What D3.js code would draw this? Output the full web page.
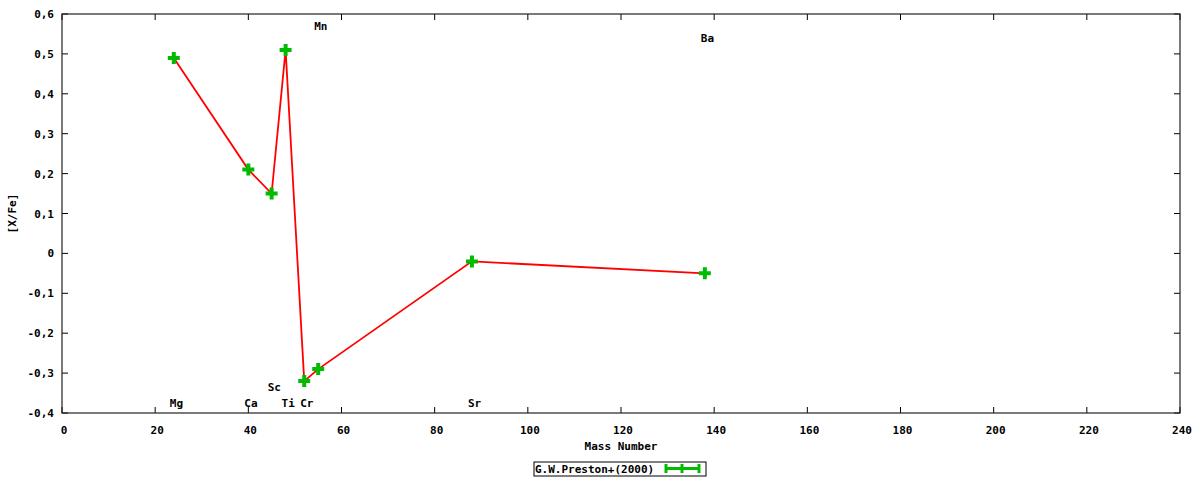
<!DOCTYPE html>
<html><head><meta charset="utf-8">
<script src="https://cdn.jsdelivr.net/npm/d3@7"></script>
<style>body{margin:0;background:#fff}text{font-family:"DejaVu Sans Mono",monospace;font-weight:bold;font-size:11px;fill:#000}</style>
</head><body><svg id="c" width="1200" height="480"></svg>
<script>
const elements = ["Mg","Ca","Sc","Ti","Cr","Mn","Sr","Ba"];
const massNumbers = [24,40,45,48,52,55,88,138];
const xFe = [0.49,0.21,0.15,0.51,-0.32,-0.29,-0.02,-0.05];
const labelY = [-0.375,-0.375,-0.335,-0.375,-0.375,0.57,-0.375,0.54];
const xTicks = [0,20,40,60,80,100,120,140,160,180,200,220,240];
const yTicks = [-0.4,-0.3,-0.2,-0.1,0,0.1,0.2,0.3,0.4,0.5,0.6];
const seriesName = "G.W.Preston+(2000)";

const svg = d3.select("#c");
const L=62,R=1180,T=14,B=413;
const x = d3.scaleLinear().domain([0,240]).range([L,R]);
const y = d3.scaleLinear().domain([-0.4,0.6]).range([B,T]);

const tl=6;
const g = svg.append("g");
xTicks.forEach(v=>{
  g.append("line").attr("x1",x(v)).attr("x2",x(v)).attr("y1",B).attr("y2",B-tl).attr("stroke","#000");
  g.append("line").attr("x1",x(v)).attr("x2",x(v)).attr("y1",T).attr("y2",T+tl).attr("stroke","#000");
  g.append("text").attr("x",x(v)+2).attr("y",B+21).attr("text-anchor","middle").text(v);
});
yTicks.forEach(v=>{
  g.append("line").attr("x1",L).attr("x2",L+tl).attr("y1",y(v)).attr("y2",y(v)).attr("stroke","#000");
  g.append("line").attr("x1",R).attr("x2",R-tl).attr("y1",y(v)).attr("y2",y(v)).attr("stroke","#000");
  const s = (Math.abs(v)<1e-9)?"0":String(v).replace(".",",");
  g.append("text").attr("x",L-8).attr("y",y(v)+4).attr("text-anchor","end").text(s);
});
g.append("rect").attr("x",L).attr("y",T).attr("width",R-L).attr("height",B-T).attr("fill","none").attr("stroke","#222").attr("stroke-width",1.2);

elements.forEach((e,i)=>{
  g.append("text").attr("x",x(massNumbers[i])-4).attr("y",y(labelY[i])+4).text(e);
});

const pts = massNumbers.map((m,i)=>[m,xFe[i]]);
g.append("path").datum(pts).attr("fill","none").attr("stroke","#ff0000").attr("stroke-width",1.8)
 .attr("d",d3.line().x(d=>x(d[0])).y(d=>y(d[1])));

const cross = d3.symbol().type(d3.symbolCross).size(80);
g.selectAll(".pt").data(pts).enter().append("path").attr("class","pt")
 .attr("transform",d=>`translate(${x(d[0])},${y(d[1])})`).attr("d",cross).attr("fill","#00bb00");

g.append("text").attr("x",(L+R)/2).attr("y",450).attr("text-anchor","middle").text("Mass Number");
g.append("text").attr("transform","translate(16,"+((T+B)/2)+") rotate(-90)").attr("text-anchor","middle").text("[X/Fe]");

const lg = g.append("g");
lg.append("rect").attr("x",534).attr("y",462).attr("width",172).attr("height",14).attr("fill","none").attr("stroke","#000");
lg.append("text").attr("x",535).attr("y",473).text(seriesName);
lg.append("line").attr("x1",665).attr("x2",700).attr("y1",468.5).attr("y2",468.5).attr("stroke","#00bb00").attr("stroke-width",3);
[666,682,699].forEach(px=>lg.append("line").attr("x1",px).attr("x2",px).attr("y1",464).attr("y2",473).attr("stroke","#00bb00").attr("stroke-width",3));
</script></body></html>
